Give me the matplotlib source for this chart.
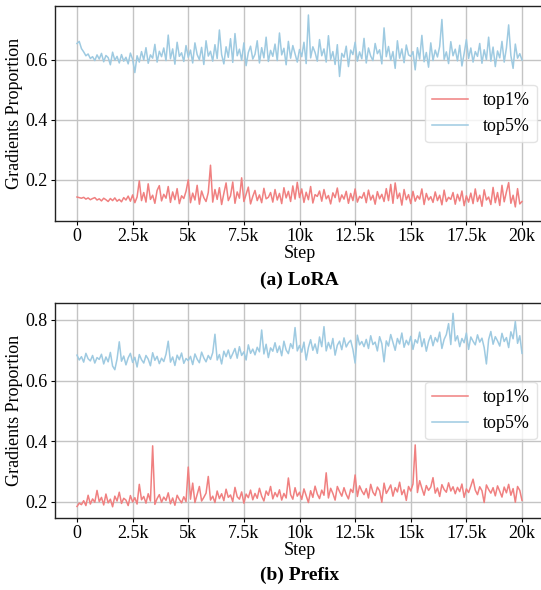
import numpy as np
import matplotlib
matplotlib.use("Agg")
import matplotlib.pyplot as plt

plt.rcParams['font.family'] = ['Liberation Serif', 'DejaVu Serif']
plt.rcParams['font.size'] = 13

# steps 0..20000, every 100 steps; values in thousandths
steps = np.arange(0, 20001, 100)

lora_top1 = [
    143, 141, 139, 142, 136, 140, 134, 138, 141, 133,
    137, 130, 139, 134, 128, 138, 131, 140, 129, 135,
    127, 141, 133, 146, 129, 150, 124, 143, 197, 131,
    158, 126, 187, 135, 149, 122, 165, 181, 130, 152,
    139, 178, 125, 160, 134, 171, 121, 147, 138, 162,
    200, 124, 156, 133, 182, 119, 163, 141, 128, 158,
    249, 126, 168, 135, 174, 118, 155, 190, 131, 147,
    193, 122, 160, 139, 207, 128, 152, 176, 120, 145,
    165, 131, 150, 124, 172, 137, 142, 158, 126, 168,
    133, 155, 121, 174, 140, 162, 128, 180, 136, 192,
    141, 170, 125, 159, 134, 178, 123, 151, 145, 163,
    129, 168, 137, 148, 120, 157, 141, 173, 127, 150,
    136, 162, 122, 155, 131, 170, 126, 145, 139, 158,
    124, 166, 133, 149, 119, 161, 137, 152, 128, 171,
    131, 185, 122, 190, 138, 156, 116, 168, 134, 151,
    121, 162, 129, 147, 136, 170, 118, 155, 133, 144,
    125, 160, 131, 149, 117, 166, 128, 142, 135, 158,
    119, 152, 130, 163, 114, 147, 126, 156, 121, 170,
    128, 149, 112, 167, 133, 143, 118, 175, 124, 158,
    115, 182, 127, 160, 191, 122, 149, 110, 171, 120,
    128,
]

lora_top5 = [
    655, 662, 638, 627, 614, 620, 605, 611, 598, 617,
    603, 622, 594, 615, 608, 584, 626, 599, 612, 590,
    618, 596, 609, 587, 623, 602, 558, 614, 593, 628,
    600, 641, 589, 617, 606, 652, 593, 629, 611, 640,
    598, 683, 604, 637, 586, 659, 612, 624, 595, 648,
    609, 633, 590, 657, 618, 601, 642, 585, 664, 613,
    629, 596, 651, 605, 700, 618, 587, 644, 609, 671,
    592, 688, 614, 636, 599, 657, 581, 625, 646, 603,
    619, 664, 590, 641, 607, 676, 595, 632, 612, 653,
    598, 690, 617, 639, 584, 662, 606, 648, 621, 593,
    635, 611, 659, 588, 750, 607, 644, 625, 596, 668,
    614, 637, 593, 681, 602, 628, 585, 651, 545, 622,
    609, 646, 578, 633, 618, 659, 596, 627, 604, 672,
    590, 640, 613, 598, 655, 621, 634, 587, 707, 611,
    645, 599, 628, 572, 664, 606, 637, 591, 650, 617,
    612, 628, 567, 641, 603, 682, 594, 625, 576, 657,
    598, 633, 610, 645, 735, 602, 627, 588, 661, 614,
    636, 597, 649, 580, 622, 668, 605, 640, 593, 628,
    612, 655, 589, 634, 601, 676, 596, 643, 578, 630,
    607, 662, 593, 640, 717, 615, 572, 653, 606, 621,
    600,
]

prefix_top1 = [
    185, 196, 191, 204, 188, 222, 193, 210, 199, 238,
    201, 215, 190, 226, 197, 209, 184, 219, 203, 232,
    195, 212, 206, 188, 221, 200, 214, 193, 258, 207,
    218, 196, 227, 203, 385, 192, 211, 224, 199, 216,
    205, 230, 194, 213, 189, 222, 208, 197, 217, 201,
    315, 209, 262, 198, 224, 251, 203, 215, 229, 284,
    206, 219, 198, 236, 211, 227, 204, 242, 215, 223,
    201, 248, 217, 209, 233, 196, 226, 214, 239, 207,
    228, 212, 245, 219, 203, 236, 222, 251, 210, 231,
    217, 240, 206, 228, 213, 279, 224, 209, 247, 219,
    232, 208, 243, 221, 198, 237, 215, 252, 226, 211,
    239, 222, 296, 213, 245, 228, 206, 251, 234, 219,
    247, 225, 210, 242, 231, 289, 218, 253, 236, 224,
    244, 213, 258, 232, 221, 249, 237, 199, 262, 228,
    241, 256, 219, 247, 233, 265, 224, 240, 205, 251,
    236, 259, 388, 231, 270, 245, 222, 254, 238, 249,
    280, 229, 246, 218, 257, 241, 232, 263, 236, 250,
    227, 248, 234, 259, 215, 243, 231, 252, 275, 239,
    224, 250, 237, 198, 256, 241, 229, 247, 220, 253,
    235, 216, 249, 230, 258, 222, 244, 199, 251, 238,
    205,
]

prefix_top5 = [
    684, 668, 679, 661, 690, 672, 665, 683, 658, 676,
    670, 687, 655, 678, 662, 693, 648, 636, 671, 728,
    664, 681, 652, 675, 690, 660, 677, 645, 686, 669,
    658, 683, 671, 649, 692, 667, 680, 656, 674, 663,
    687, 730, 661, 678, 650, 684, 669, 691, 657, 673,
    666, 680, 653, 688, 671, 659, 694, 675, 662, 683,
    670, 692, 753, 668, 686, 655, 697, 679, 701, 673,
    689, 706, 674, 712, 683, 695, 668, 718, 690, 704,
    685, 710, 695, 767, 688, 720, 676, 708, 697, 725,
    693, 714, 682, 730, 701, 689, 722, 706, 775, 698,
    716, 694, 727, 668, 709, 735, 700, 721, 690, 744,
    712, 778, 698, 726, 705, 739, 684, 717, 730, 702,
    741, 711, 725, 733, 703, 658, 750, 718, 729, 712,
    736, 706, 748, 719, 727, 698, 745, 722, 662, 731,
    714, 752, 726, 700, 739, 721, 757, 710, 733, 718,
    746, 703, 735, 724, 760, 712, 738, 697, 729, 749,
    715, 742, 728, 760, 706, 736, 752, 788, 719, 822,
    731, 748, 712, 739, 725, 757, 703, 744, 730, 718,
    751, 727, 740, 709, 655, 735, 762, 720, 745, 731,
    714, 756, 729, 742, 709, 761, 738, 795, 723, 748,
    690,
]

xtick_vals = [0, 2500, 5000, 7500, 10000, 12500, 15000, 17500, 20000]
xtick_labels = ['0', '2.5k', '5k', '7.5k', '10k', '12.5k', '15k', '17.5k', '20k']

red = '#F08080'
blue = '#9ECAE1'

fig = plt.figure(figsize=(5.41, 5.90), dpi=100)

W, H = 541, 590
def px_axes(left, top, right, bottom):
    return fig.add_axes([left / W, 1 - bottom / H, (right - left) / W, (bottom - top) / H])

panels = [
    (px_axes(54.75, 6, 544.25, 221), lora_top1, lora_top5, (0.063, 0.78), [0.2, 0.4, 0.6], '(a) LoRA', 280),
    (px_axes(54.75, 303, 544.25, 518), prefix_top1, prefix_top5, (0.147, 0.856), [0.2, 0.4, 0.6, 0.8], '(b) Prefix', 575),
]

for ax, t1, t5, ylim, yticks, caption, cap_y in panels:
    ax.plot(steps, np.array(t1) / 1000, color=red, lw=1.1, label='top1%')
    ax.plot(steps, np.array(t5) / 1000, color=blue, lw=1.1, label='top5%')
    ax.set_xlim(-1000, 21000)
    ax.set_ylim(*ylim)
    ax.set_yticks(yticks)
    ax.set_yticklabels([f'{v:.1f}' for v in yticks])
    ax.set_xticks(xtick_vals)
    ax.set_xticklabels(xtick_labels)
    ax.grid(True, color='#c4c4c4', lw=1.0)
    ax.set_axisbelow(True)
    for s in ax.spines.values():
        s.set_color('#222222')
        s.set_linewidth(1.0)
    ax.tick_params(length=3, width=0.8, pad=2, labelsize=13)
    ax.set_ylabel('Gradients Proportion', fontsize=13, labelpad=2)
    ax.set_xlabel('Step', fontsize=13, labelpad=0)
    ax.legend(loc='center right', fontsize=13, frameon=True, framealpha=0.8,
              edgecolor='#dddddd', bbox_to_anchor=(0.985, 0.5), borderaxespad=0)
    fig.text(299.5 / W, 1 - cap_y / H, caption, ha='center', va='center',
             fontsize=14, fontweight='bold')

fig.savefig('out.png', dpi=100)
